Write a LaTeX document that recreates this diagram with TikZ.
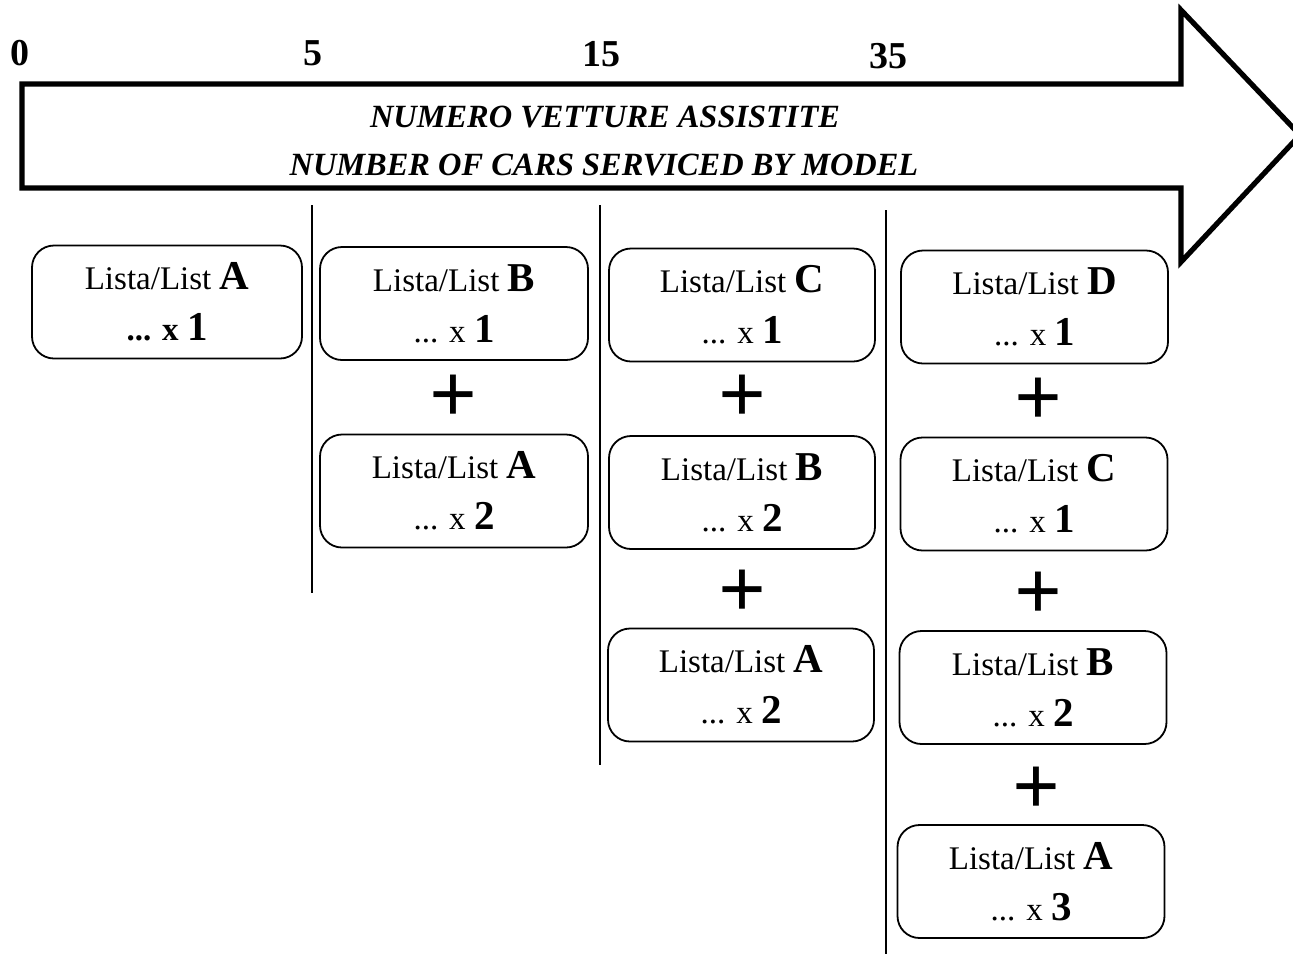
\documentclass[tikz,border=0pt]{standalone}
\usepackage{fontspec}
\setmainfont{Liberation Serif}
\newcommand{\lstletter}[1]{{\fontsize{20.5}{20}\selectfont\bfseries #1}}
\begin{document}
\begin{tikzpicture}[x=0.5pt,y=-0.5pt,
  lbox/.style={draw, line width=0.9pt, rounded corners=11pt, minimum width=134pt,
    minimum height=56.5pt, inner sep=0pt, align=center,
    font=\fontsize{16.5}{25.5}\selectfont},
  plussign/.style={inner sep=0pt, font=\fontsize{42}{42}\selectfont\bfseries},
  tick/.style={inner sep=0pt, font=\fontsize{19}{20}\selectfont\bfseries},
  ttl/.style={inner sep=0pt, font=\fontsize{16.2}{20}\selectfont\bfseries\itshape},
  sep/.style={line width=1pt}]
\useasboundingbox (0,0) rectangle (1293,954);
% arrow
\draw[line width=2.6pt, line join=miter] (22,84) -- (1181,84) -- (1181,10) -- (1300,135)
  -- (1181,262) -- (1181,188) -- (22,188) -- cycle;
% scale labels
\node[tick] (t0) at (20,53) {0};
\node[tick] (t5) at (313,53) {5};
\node[tick] (t15) at (601,54) {15};
\node[tick] (t35) at (888,56) {35};
\node[ttl] (title1) at (605,117) {NUMERO VETTURE ASSISTITE};
\node[ttl] (title2) at (604,165) {NUMBER OF CARS SERVICED BY MODEL};
% separators
\coordinate (s1a) at (312,205); \coordinate (s1b) at (312,593);
\coordinate (s2a) at (600,205); \coordinate (s2b) at (600,765);
\coordinate (s3a) at (886,210); \coordinate (s3b) at (886,954);
\draw[sep] (s1a) -- (s1b);
\draw[sep] (s2a) -- (s2b);
\draw[sep] (s3a) -- (s3b);
% column 1
\node[lbox, minimum width=135pt] (a1) at (167,302) {Lista/List \lstletter{A}\\{\bfseries ... x} \lstletter{1}};
% column 2
\node[lbox] (b2) at (454,303.5) {Lista/List \lstletter{B}\\... x \lstletter{1}};
\node[plussign] (p21) at (453,399) {+};
\node[lbox] (a2) at (454,491) {Lista/List \lstletter{A}\\... x \lstletter{2}};
% column 3
\node[lbox, minimum width=133pt] (c3) at (742,305) {Lista/List \lstletter{C}\\... x \lstletter{1}};
\node[plussign] (p31) at (742,399) {+};
\node[lbox, minimum width=133pt] (b3) at (742,492.5) {Lista/List \lstletter{B}\\... x \lstletter{2}};
\node[plussign] (p32) at (742,594) {+};
\node[lbox, minimum width=133pt] (a3) at (741,685) {Lista/List \lstletter{A}\\... x \lstletter{2}};
% column 4
\node[lbox, minimum width=133.5pt] (d4) at (1034.5,307) {Lista/List \lstletter{D}\\... x \lstletter{1}};
\node[plussign] (p41) at (1038,402) {+};
\node[lbox, minimum width=133.5pt] (c4) at (1034,494) {Lista/List \lstletter{C}\\... x \lstletter{1}};
\node[plussign] (p42) at (1038,596) {+};
\node[lbox, minimum width=133.5pt] (b4) at (1033,687.5) {Lista/List \lstletter{B}\\... x \lstletter{2}};
\node[plussign] (p43) at (1036,791) {+};
\node[lbox, minimum width=133.5pt] (a4) at (1031,881.5) {Lista/List \lstletter{A}\\... x \lstletter{3}};
\end{tikzpicture}
\end{document}
